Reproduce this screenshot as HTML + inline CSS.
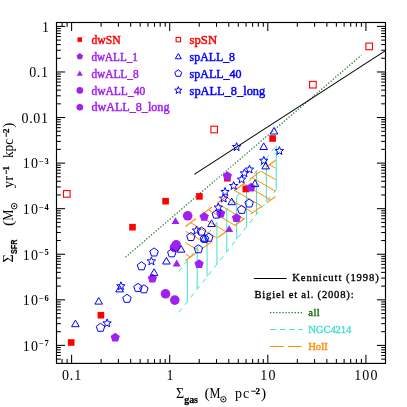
<!DOCTYPE html>
<html><head><meta charset="utf-8"><title>Kennicutt-Schmidt relation</title>
<style>html,body{margin:0;padding:0;background:#fff;}svg{display:block;will-change:transform;}text{white-space:pre;}</style>
</head><body>
<svg width="407" height="407" viewBox="0 0 407 407"><g stroke="#40e0d0" stroke-width="1.0" fill="none"><line x1="187.30" y1="260.60" x2="187.30" y2="301.57"/><line x1="197.18" y1="247.84" x2="197.18" y2="289.10"/><line x1="207.06" y1="235.07" x2="207.06" y2="276.64"/><line x1="216.94" y1="222.31" x2="216.94" y2="264.17"/><line x1="226.82" y1="209.54" x2="226.82" y2="251.70"/><line x1="236.70" y1="196.78" x2="236.70" y2="239.23"/><line x1="246.58" y1="184.01" x2="246.58" y2="226.76"/><line x1="256.46" y1="171.25" x2="256.46" y2="214.29"/><line x1="266.34" y1="158.48" x2="266.34" y2="201.82"/><line x1="276.22" y1="145.72" x2="276.22" y2="189.36"/></g>
<g stroke="#40e0d0" stroke-width="1.0" fill="none" stroke-dasharray="5 4.5"><line x1="178.8" y1="312.30" x2="276.22" y2="189.36"/><line x1="178.8" y1="271.58" x2="276.22" y2="145.72"/></g>
<g stroke="#ff8c00" stroke-width="1.0" fill="none"><line x1="185.50" y1="254.28" x2="190.29" y2="257.06"/><line x1="185.50" y1="242.75" x2="199.23" y2="250.72"/><line x1="185.50" y1="231.22" x2="208.17" y2="244.37"/><line x1="190.68" y1="222.69" x2="217.11" y2="238.03"/><line x1="199.45" y1="216.25" x2="226.06" y2="231.68"/><line x1="208.21" y1="209.81" x2="235.00" y2="225.34"/><line x1="216.98" y1="203.36" x2="243.94" y2="219.00"/><line x1="225.75" y1="196.92" x2="252.88" y2="212.65"/><line x1="234.52" y1="190.47" x2="261.82" y2="206.31"/><line x1="243.29" y1="184.03" x2="270.76" y2="199.96"/><line x1="252.05" y1="177.58" x2="275.60" y2="191.24"/><line x1="260.82" y1="171.14" x2="275.60" y2="179.71"/><line x1="269.59" y1="164.69" x2="275.60" y2="168.18"/></g>
<g stroke="#ff8c00" stroke-width="1.1" fill="none" stroke-dasharray="13 7"><line x1="185.5" y1="226.50" x2="275.6" y2="160.28"/><line x1="185.5" y1="260.46" x2="275.6" y2="196.53"/></g>
<line x1="125.5" y1="257.3" x2="361.3" y2="55.2" stroke="#14701a" stroke-width="1.25" stroke-dasharray="1.2 1.87"/>
<g><rect x="67.90" y="339.20" width="6.6" height="6.6" fill="#ff0000"/><rect x="97.60" y="311.90" width="6.6" height="6.6" fill="#ff0000"/><rect x="129.20" y="223.90" width="6.6" height="6.6" fill="#ff0000"/><rect x="162.30" y="197.90" width="6.6" height="6.6" fill="#ff0000"/><rect x="196.10" y="193.10" width="6.6" height="6.6" fill="#ff0000"/><rect x="224.00" y="174.90" width="6.6" height="6.6" fill="#ff0000"/><rect x="242.50" y="185.70" width="6.6" height="6.6" fill="#ff0000"/><rect x="269.30" y="135.20" width="6.6" height="6.6" fill="#ff0000"/><polygon points="115.20,332.75 119.81,336.10 118.05,341.52 112.35,341.52 110.59,336.10" fill="#a020f0"/><polygon points="152.40,273.65 157.01,277.00 155.25,282.42 149.55,282.42 147.79,277.00" fill="#a020f0"/><polygon points="199.10,259.15 203.71,262.50 201.95,267.92 196.25,267.92 194.49,262.50" fill="#a020f0"/><polygon points="204.20,211.95 208.81,215.30 207.05,220.72 201.35,220.72 199.59,215.30" fill="#a020f0"/><polygon points="220.70,208.65 225.31,212.00 223.55,217.42 217.85,217.42 216.09,212.00" fill="#a020f0"/><polygon points="236.50,213.15 241.11,216.50 239.35,221.92 233.65,221.92 231.89,216.50" fill="#a020f0"/><polygon points="227.30,171.25 231.91,174.60 230.15,180.02 224.45,180.02 222.69,174.60" fill="#a020f0"/><polygon points="251.00,182.65 255.61,186.00 253.85,191.42 248.15,191.42 246.39,186.00" fill="#a020f0"/><polygon points="175.50,217.20 179.48,224.10 171.52,224.10" fill="#a020f0"/><polygon points="176.70,259.60 180.68,266.50 172.72,266.50" fill="#a020f0"/><polygon points="229.20,225.20 233.18,232.10 225.22,232.10" fill="#a020f0"/><circle cx="176.2" cy="244.9" r="4.8" fill="#a020f0"/><circle cx="174.6" cy="247.5" r="4.8" fill="#a020f0"/><circle cx="187.7" cy="215.8" r="4.8" fill="#a020f0"/><circle cx="165.5" cy="293.8" r="4.8" fill="#a020f0"/><circle cx="174.8" cy="300.1" r="4.8" fill="#a020f0"/><rect x="63.50" y="190.60" width="6.6" height="6.6" fill="none" stroke="#ff0000" stroke-width="1.1"/><rect x="210.90" y="126.20" width="6.6" height="6.6" fill="none" stroke="#ff0000" stroke-width="1.1"/><rect x="309.60" y="81.40" width="6.6" height="6.6" fill="none" stroke="#ff0000" stroke-width="1.1"/><rect x="365.90" y="43.10" width="6.6" height="6.6" fill="none" stroke="#ff0000" stroke-width="1.1"/><polygon points="75.40,320.10 79.21,326.70 71.59,326.70" fill="none" stroke="#0000ff" stroke-width="1.0"/><polygon points="98.70,297.50 102.51,304.10 94.89,304.10" fill="none" stroke="#0000ff" stroke-width="1.0"/><polygon points="119.60,285.30 123.41,291.90 115.79,291.90" fill="none" stroke="#0000ff" stroke-width="1.0"/><polygon points="154.10,268.80 157.91,275.40 150.29,275.40" fill="none" stroke="#0000ff" stroke-width="1.0"/><polygon points="166.40,257.40 170.21,264.00 162.59,264.00" fill="none" stroke="#0000ff" stroke-width="1.0"/><polygon points="181.10,245.60 184.91,252.20 177.29,252.20" fill="none" stroke="#0000ff" stroke-width="1.0"/><polygon points="211.50,219.90 215.31,226.50 207.69,226.50" fill="none" stroke="#0000ff" stroke-width="1.0"/><polygon points="204.30,234.60 208.11,241.20 200.49,241.20" fill="none" stroke="#0000ff" stroke-width="1.0"/><polygon points="231.70,198.10 235.51,204.70 227.89,204.70" fill="none" stroke="#0000ff" stroke-width="1.0"/><polygon points="255.00,179.80 258.81,186.40 251.19,186.40" fill="none" stroke="#0000ff" stroke-width="1.0"/><polygon points="265.70,162.30 269.51,168.90 261.89,168.90" fill="none" stroke="#0000ff" stroke-width="1.0"/><polygon points="263.70,142.90 267.51,149.50 259.89,149.50" fill="none" stroke="#0000ff" stroke-width="1.0"/><polygon points="274.00,127.40 277.81,134.00 270.19,134.00" fill="none" stroke="#0000ff" stroke-width="1.0"/><polygon points="100.50,323.25 104.73,326.32 103.12,331.30 97.88,331.30 96.27,326.32" fill="none" stroke="#0000ff" stroke-width="1.0"/><polygon points="127.00,294.25 131.23,297.32 129.62,302.30 124.38,302.30 122.77,297.32" fill="none" stroke="#0000ff" stroke-width="1.0"/><polygon points="138.00,283.35 142.23,286.42 140.62,291.40 135.38,291.40 133.77,286.42" fill="none" stroke="#0000ff" stroke-width="1.0"/><polygon points="143.90,284.75 148.13,287.82 146.52,292.80 141.28,292.80 139.67,287.82" fill="none" stroke="#0000ff" stroke-width="1.0"/><polygon points="141.50,261.75 145.73,264.82 144.12,269.80 138.88,269.80 137.27,264.82" fill="none" stroke="#0000ff" stroke-width="1.0"/><polygon points="154.10,247.95 158.33,251.02 156.72,256.00 151.48,256.00 149.87,251.02" fill="none" stroke="#0000ff" stroke-width="1.0"/><polygon points="171.80,248.75 176.03,251.82 174.42,256.80 169.18,256.80 167.57,251.82" fill="none" stroke="#0000ff" stroke-width="1.0"/><polygon points="190.90,232.45 195.13,235.52 193.52,240.50 188.28,240.50 186.67,235.52" fill="none" stroke="#0000ff" stroke-width="1.0"/><polygon points="201.50,227.05 205.73,230.12 204.12,235.10 198.88,235.10 197.27,230.12" fill="none" stroke="#0000ff" stroke-width="1.0"/><polygon points="204.50,234.35 208.73,237.42 207.12,242.40 201.88,242.40 200.27,237.42" fill="none" stroke="#0000ff" stroke-width="1.0"/><polygon points="208.80,233.15 213.03,236.22 211.42,241.20 206.18,241.20 204.57,236.22" fill="none" stroke="#0000ff" stroke-width="1.0"/><polygon points="198.40,244.65 202.63,247.72 201.02,252.70 195.78,252.70 194.17,247.72" fill="none" stroke="#0000ff" stroke-width="1.0"/><polygon points="216.30,210.05 220.53,213.12 218.92,218.10 213.68,218.10 212.07,213.12" fill="none" stroke="#0000ff" stroke-width="1.0"/><polygon points="241.70,205.35 245.93,208.42 244.32,213.40 239.08,213.40 237.47,208.42" fill="none" stroke="#0000ff" stroke-width="1.0"/><polygon points="249.10,198.95 253.33,202.02 251.72,207.00 246.48,207.00 244.87,202.02" fill="none" stroke="#0000ff" stroke-width="1.0"/><polygon points="107.10,318.90 108.22,321.76 111.28,321.94 108.91,323.89 109.69,326.86 107.10,325.20 104.51,326.86 105.29,323.89 102.92,321.94 105.98,321.76" fill="none" stroke="#0000ff" stroke-width="1.0"/><polygon points="120.90,281.80 122.02,284.66 125.08,284.84 122.71,286.79 123.49,289.76 120.90,288.10 118.31,289.76 119.09,286.79 116.72,284.84 119.78,284.66" fill="none" stroke="#0000ff" stroke-width="1.0"/><polygon points="151.40,256.90 152.52,259.76 155.58,259.94 153.21,261.89 153.99,264.86 151.40,263.20 148.81,264.86 149.59,261.89 147.22,259.94 150.28,259.76" fill="none" stroke="#0000ff" stroke-width="1.0"/><polygon points="196.50,226.10 197.62,228.96 200.68,229.14 198.31,231.09 199.09,234.06 196.50,232.40 193.91,234.06 194.69,231.09 192.32,229.14 195.38,228.96" fill="none" stroke="#0000ff" stroke-width="1.0"/><polygon points="218.30,203.10 219.42,205.96 222.48,206.14 220.11,208.09 220.89,211.06 218.30,209.40 215.71,211.06 216.49,208.09 214.12,206.14 217.18,205.96" fill="none" stroke="#0000ff" stroke-width="1.0"/><polygon points="223.70,194.10 224.82,196.96 227.88,197.14 225.51,199.09 226.29,202.06 223.70,200.40 221.11,202.06 221.89,199.09 219.52,197.14 222.58,196.96" fill="none" stroke="#0000ff" stroke-width="1.0"/><polygon points="225.10,187.50 226.22,190.36 229.28,190.54 226.91,192.49 227.69,195.46 225.10,193.80 222.51,195.46 223.29,192.49 220.92,190.54 223.98,190.36" fill="none" stroke="#0000ff" stroke-width="1.0"/><polygon points="233.70,181.50 234.82,184.36 237.88,184.54 235.51,186.49 236.29,189.46 233.70,187.80 231.11,189.46 231.89,186.49 229.52,184.54 232.58,184.36" fill="none" stroke="#0000ff" stroke-width="1.0"/><polygon points="241.60,175.10 242.72,177.96 245.78,178.14 243.41,180.09 244.19,183.06 241.60,181.40 239.01,183.06 239.79,180.09 237.42,178.14 240.48,177.96" fill="none" stroke="#0000ff" stroke-width="1.0"/><polygon points="244.40,168.90 245.52,171.76 248.58,171.94 246.21,173.89 246.99,176.86 244.40,175.20 241.81,176.86 242.59,173.89 240.22,171.94 243.28,171.76" fill="none" stroke="#0000ff" stroke-width="1.0"/><polygon points="249.50,165.10 250.62,167.96 253.68,168.14 251.31,170.09 252.09,173.06 249.50,171.40 246.91,173.06 247.69,170.09 245.32,168.14 248.38,167.96" fill="none" stroke="#0000ff" stroke-width="1.0"/><polygon points="263.80,156.30 264.92,159.16 267.98,159.34 265.61,161.29 266.39,164.26 263.80,162.60 261.21,164.26 261.99,161.29 259.62,159.34 262.68,159.16" fill="none" stroke="#0000ff" stroke-width="1.0"/><polygon points="279.40,146.60 280.52,149.46 283.58,149.64 281.21,151.59 281.99,154.56 279.40,152.90 276.81,154.56 277.59,151.59 275.22,149.64 278.28,149.46" fill="none" stroke="#0000ff" stroke-width="1.0"/><polygon points="236.60,142.60 237.72,145.46 240.78,145.64 238.41,147.59 239.19,150.56 236.60,148.90 234.01,150.56 234.79,147.59 232.42,145.64 235.48,145.46" fill="none" stroke="#0000ff" stroke-width="1.0"/></g>
<line x1="194.3" y1="174.4" x2="385.5" y2="50.6" stroke="#000" stroke-width="1.1"/>
<rect x="56.5" y="22.5" width="329.0" height="340.9" fill="none" stroke="#000" stroke-width="1.15"/>
<g stroke="#000" stroke-width="1.05"><line x1="62.09" y1="363.4" x2="62.09" y2="359.09999999999997"/><line x1="62.09" y1="22.5" x2="62.09" y2="26.8"/><line x1="67.11" y1="363.4" x2="67.11" y2="359.09999999999997"/><line x1="67.11" y1="22.5" x2="67.11" y2="26.8"/><line x1="71.60" y1="363.4" x2="71.60" y2="354.79999999999995"/><line x1="71.60" y1="22.5" x2="71.60" y2="31.1"/><line x1="101.13" y1="363.4" x2="101.13" y2="359.09999999999997"/><line x1="101.13" y1="22.5" x2="101.13" y2="26.8"/><line x1="118.41" y1="363.4" x2="118.41" y2="359.09999999999997"/><line x1="118.41" y1="22.5" x2="118.41" y2="26.8"/><line x1="130.66" y1="363.4" x2="130.66" y2="359.09999999999997"/><line x1="130.66" y1="22.5" x2="130.66" y2="26.8"/><line x1="140.17" y1="363.4" x2="140.17" y2="359.09999999999997"/><line x1="140.17" y1="22.5" x2="140.17" y2="26.8"/><line x1="147.94" y1="363.4" x2="147.94" y2="359.09999999999997"/><line x1="147.94" y1="22.5" x2="147.94" y2="26.8"/><line x1="154.50" y1="363.4" x2="154.50" y2="359.09999999999997"/><line x1="154.50" y1="22.5" x2="154.50" y2="26.8"/><line x1="160.19" y1="363.4" x2="160.19" y2="359.09999999999997"/><line x1="160.19" y1="22.5" x2="160.19" y2="26.8"/><line x1="165.21" y1="363.4" x2="165.21" y2="359.09999999999997"/><line x1="165.21" y1="22.5" x2="165.21" y2="26.8"/><line x1="169.70" y1="363.4" x2="169.70" y2="354.79999999999995"/><line x1="169.70" y1="22.5" x2="169.70" y2="31.1"/><line x1="199.23" y1="363.4" x2="199.23" y2="359.09999999999997"/><line x1="199.23" y1="22.5" x2="199.23" y2="26.8"/><line x1="216.51" y1="363.4" x2="216.51" y2="359.09999999999997"/><line x1="216.51" y1="22.5" x2="216.51" y2="26.8"/><line x1="228.76" y1="363.4" x2="228.76" y2="359.09999999999997"/><line x1="228.76" y1="22.5" x2="228.76" y2="26.8"/><line x1="238.27" y1="363.4" x2="238.27" y2="359.09999999999997"/><line x1="238.27" y1="22.5" x2="238.27" y2="26.8"/><line x1="246.04" y1="363.4" x2="246.04" y2="359.09999999999997"/><line x1="246.04" y1="22.5" x2="246.04" y2="26.8"/><line x1="252.60" y1="363.4" x2="252.60" y2="359.09999999999997"/><line x1="252.60" y1="22.5" x2="252.60" y2="26.8"/><line x1="258.29" y1="363.4" x2="258.29" y2="359.09999999999997"/><line x1="258.29" y1="22.5" x2="258.29" y2="26.8"/><line x1="263.31" y1="363.4" x2="263.31" y2="359.09999999999997"/><line x1="263.31" y1="22.5" x2="263.31" y2="26.8"/><line x1="267.80" y1="363.4" x2="267.80" y2="354.79999999999995"/><line x1="267.80" y1="22.5" x2="267.80" y2="31.1"/><line x1="297.33" y1="363.4" x2="297.33" y2="359.09999999999997"/><line x1="297.33" y1="22.5" x2="297.33" y2="26.8"/><line x1="314.61" y1="363.4" x2="314.61" y2="359.09999999999997"/><line x1="314.61" y1="22.5" x2="314.61" y2="26.8"/><line x1="326.86" y1="363.4" x2="326.86" y2="359.09999999999997"/><line x1="326.86" y1="22.5" x2="326.86" y2="26.8"/><line x1="336.37" y1="363.4" x2="336.37" y2="359.09999999999997"/><line x1="336.37" y1="22.5" x2="336.37" y2="26.8"/><line x1="344.14" y1="363.4" x2="344.14" y2="359.09999999999997"/><line x1="344.14" y1="22.5" x2="344.14" y2="26.8"/><line x1="350.70" y1="363.4" x2="350.70" y2="359.09999999999997"/><line x1="350.70" y1="22.5" x2="350.70" y2="26.8"/><line x1="356.39" y1="363.4" x2="356.39" y2="359.09999999999997"/><line x1="356.39" y1="22.5" x2="356.39" y2="26.8"/><line x1="361.41" y1="363.4" x2="361.41" y2="359.09999999999997"/><line x1="361.41" y1="22.5" x2="361.41" y2="26.8"/><line x1="365.90" y1="363.4" x2="365.90" y2="354.79999999999995"/><line x1="365.90" y1="22.5" x2="365.90" y2="31.1"/><line x1="56.5" y1="359.11" x2="60.8" y2="359.11"/><line x1="385.5" y1="359.11" x2="381.2" y2="359.11"/><line x1="56.5" y1="355.50" x2="60.8" y2="355.50"/><line x1="385.5" y1="355.50" x2="381.2" y2="355.50"/><line x1="56.5" y1="352.45" x2="60.8" y2="352.45"/><line x1="385.5" y1="352.45" x2="381.2" y2="352.45"/><line x1="56.5" y1="349.81" x2="60.8" y2="349.81"/><line x1="385.5" y1="349.81" x2="381.2" y2="349.81"/><line x1="56.5" y1="347.48" x2="60.8" y2="347.48"/><line x1="385.5" y1="347.48" x2="381.2" y2="347.48"/><line x1="56.5" y1="345.39" x2="65.1" y2="345.39"/><line x1="385.5" y1="345.39" x2="376.9" y2="345.39"/><line x1="56.5" y1="331.67" x2="60.8" y2="331.67"/><line x1="385.5" y1="331.67" x2="381.2" y2="331.67"/><line x1="56.5" y1="323.65" x2="60.8" y2="323.65"/><line x1="385.5" y1="323.65" x2="381.2" y2="323.65"/><line x1="56.5" y1="317.95" x2="60.8" y2="317.95"/><line x1="385.5" y1="317.95" x2="381.2" y2="317.95"/><line x1="56.5" y1="313.54" x2="60.8" y2="313.54"/><line x1="385.5" y1="313.54" x2="381.2" y2="313.54"/><line x1="56.5" y1="309.93" x2="60.8" y2="309.93"/><line x1="385.5" y1="309.93" x2="381.2" y2="309.93"/><line x1="56.5" y1="306.88" x2="60.8" y2="306.88"/><line x1="385.5" y1="306.88" x2="381.2" y2="306.88"/><line x1="56.5" y1="304.24" x2="60.8" y2="304.24"/><line x1="385.5" y1="304.24" x2="381.2" y2="304.24"/><line x1="56.5" y1="301.91" x2="60.8" y2="301.91"/><line x1="385.5" y1="301.91" x2="381.2" y2="301.91"/><line x1="56.5" y1="299.82" x2="65.1" y2="299.82"/><line x1="385.5" y1="299.82" x2="376.9" y2="299.82"/><line x1="56.5" y1="286.10" x2="60.8" y2="286.10"/><line x1="385.5" y1="286.10" x2="381.2" y2="286.10"/><line x1="56.5" y1="278.08" x2="60.8" y2="278.08"/><line x1="385.5" y1="278.08" x2="381.2" y2="278.08"/><line x1="56.5" y1="272.38" x2="60.8" y2="272.38"/><line x1="385.5" y1="272.38" x2="381.2" y2="272.38"/><line x1="56.5" y1="267.97" x2="60.8" y2="267.97"/><line x1="385.5" y1="267.97" x2="381.2" y2="267.97"/><line x1="56.5" y1="264.36" x2="60.8" y2="264.36"/><line x1="385.5" y1="264.36" x2="381.2" y2="264.36"/><line x1="56.5" y1="261.31" x2="60.8" y2="261.31"/><line x1="385.5" y1="261.31" x2="381.2" y2="261.31"/><line x1="56.5" y1="258.67" x2="60.8" y2="258.67"/><line x1="385.5" y1="258.67" x2="381.2" y2="258.67"/><line x1="56.5" y1="256.34" x2="60.8" y2="256.34"/><line x1="385.5" y1="256.34" x2="381.2" y2="256.34"/><line x1="56.5" y1="254.25" x2="65.1" y2="254.25"/><line x1="385.5" y1="254.25" x2="376.9" y2="254.25"/><line x1="56.5" y1="240.53" x2="60.8" y2="240.53"/><line x1="385.5" y1="240.53" x2="381.2" y2="240.53"/><line x1="56.5" y1="232.51" x2="60.8" y2="232.51"/><line x1="385.5" y1="232.51" x2="381.2" y2="232.51"/><line x1="56.5" y1="226.81" x2="60.8" y2="226.81"/><line x1="385.5" y1="226.81" x2="381.2" y2="226.81"/><line x1="56.5" y1="222.40" x2="60.8" y2="222.40"/><line x1="385.5" y1="222.40" x2="381.2" y2="222.40"/><line x1="56.5" y1="218.79" x2="60.8" y2="218.79"/><line x1="385.5" y1="218.79" x2="381.2" y2="218.79"/><line x1="56.5" y1="215.74" x2="60.8" y2="215.74"/><line x1="385.5" y1="215.74" x2="381.2" y2="215.74"/><line x1="56.5" y1="213.10" x2="60.8" y2="213.10"/><line x1="385.5" y1="213.10" x2="381.2" y2="213.10"/><line x1="56.5" y1="210.77" x2="60.8" y2="210.77"/><line x1="385.5" y1="210.77" x2="381.2" y2="210.77"/><line x1="56.5" y1="208.68" x2="65.1" y2="208.68"/><line x1="385.5" y1="208.68" x2="376.9" y2="208.68"/><line x1="56.5" y1="194.96" x2="60.8" y2="194.96"/><line x1="385.5" y1="194.96" x2="381.2" y2="194.96"/><line x1="56.5" y1="186.94" x2="60.8" y2="186.94"/><line x1="385.5" y1="186.94" x2="381.2" y2="186.94"/><line x1="56.5" y1="181.24" x2="60.8" y2="181.24"/><line x1="385.5" y1="181.24" x2="381.2" y2="181.24"/><line x1="56.5" y1="176.83" x2="60.8" y2="176.83"/><line x1="385.5" y1="176.83" x2="381.2" y2="176.83"/><line x1="56.5" y1="173.22" x2="60.8" y2="173.22"/><line x1="385.5" y1="173.22" x2="381.2" y2="173.22"/><line x1="56.5" y1="170.17" x2="60.8" y2="170.17"/><line x1="385.5" y1="170.17" x2="381.2" y2="170.17"/><line x1="56.5" y1="167.53" x2="60.8" y2="167.53"/><line x1="385.5" y1="167.53" x2="381.2" y2="167.53"/><line x1="56.5" y1="165.20" x2="60.8" y2="165.20"/><line x1="385.5" y1="165.20" x2="381.2" y2="165.20"/><line x1="56.5" y1="163.11" x2="65.1" y2="163.11"/><line x1="385.5" y1="163.11" x2="376.9" y2="163.11"/><line x1="56.5" y1="149.39" x2="60.8" y2="149.39"/><line x1="385.5" y1="149.39" x2="381.2" y2="149.39"/><line x1="56.5" y1="141.37" x2="60.8" y2="141.37"/><line x1="385.5" y1="141.37" x2="381.2" y2="141.37"/><line x1="56.5" y1="135.67" x2="60.8" y2="135.67"/><line x1="385.5" y1="135.67" x2="381.2" y2="135.67"/><line x1="56.5" y1="131.26" x2="60.8" y2="131.26"/><line x1="385.5" y1="131.26" x2="381.2" y2="131.26"/><line x1="56.5" y1="127.65" x2="60.8" y2="127.65"/><line x1="385.5" y1="127.65" x2="381.2" y2="127.65"/><line x1="56.5" y1="124.60" x2="60.8" y2="124.60"/><line x1="385.5" y1="124.60" x2="381.2" y2="124.60"/><line x1="56.5" y1="121.96" x2="60.8" y2="121.96"/><line x1="385.5" y1="121.96" x2="381.2" y2="121.96"/><line x1="56.5" y1="119.63" x2="60.8" y2="119.63"/><line x1="385.5" y1="119.63" x2="381.2" y2="119.63"/><line x1="56.5" y1="117.54" x2="65.1" y2="117.54"/><line x1="385.5" y1="117.54" x2="376.9" y2="117.54"/><line x1="56.5" y1="103.82" x2="60.8" y2="103.82"/><line x1="385.5" y1="103.82" x2="381.2" y2="103.82"/><line x1="56.5" y1="95.80" x2="60.8" y2="95.80"/><line x1="385.5" y1="95.80" x2="381.2" y2="95.80"/><line x1="56.5" y1="90.10" x2="60.8" y2="90.10"/><line x1="385.5" y1="90.10" x2="381.2" y2="90.10"/><line x1="56.5" y1="85.69" x2="60.8" y2="85.69"/><line x1="385.5" y1="85.69" x2="381.2" y2="85.69"/><line x1="56.5" y1="82.08" x2="60.8" y2="82.08"/><line x1="385.5" y1="82.08" x2="381.2" y2="82.08"/><line x1="56.5" y1="79.03" x2="60.8" y2="79.03"/><line x1="385.5" y1="79.03" x2="381.2" y2="79.03"/><line x1="56.5" y1="76.39" x2="60.8" y2="76.39"/><line x1="385.5" y1="76.39" x2="381.2" y2="76.39"/><line x1="56.5" y1="74.06" x2="60.8" y2="74.06"/><line x1="385.5" y1="74.06" x2="381.2" y2="74.06"/><line x1="56.5" y1="71.97" x2="65.1" y2="71.97"/><line x1="385.5" y1="71.97" x2="376.9" y2="71.97"/><line x1="56.5" y1="58.25" x2="60.8" y2="58.25"/><line x1="385.5" y1="58.25" x2="381.2" y2="58.25"/><line x1="56.5" y1="50.23" x2="60.8" y2="50.23"/><line x1="385.5" y1="50.23" x2="381.2" y2="50.23"/><line x1="56.5" y1="44.53" x2="60.8" y2="44.53"/><line x1="385.5" y1="44.53" x2="381.2" y2="44.53"/><line x1="56.5" y1="40.12" x2="60.8" y2="40.12"/><line x1="385.5" y1="40.12" x2="381.2" y2="40.12"/><line x1="56.5" y1="36.51" x2="60.8" y2="36.51"/><line x1="385.5" y1="36.51" x2="381.2" y2="36.51"/><line x1="56.5" y1="33.46" x2="60.8" y2="33.46"/><line x1="385.5" y1="33.46" x2="381.2" y2="33.46"/><line x1="56.5" y1="30.82" x2="60.8" y2="30.82"/><line x1="385.5" y1="30.82" x2="381.2" y2="30.82"/><line x1="56.5" y1="28.49" x2="60.8" y2="28.49"/><line x1="385.5" y1="28.49" x2="381.2" y2="28.49"/><line x1="56.5" y1="26.40" x2="65.1" y2="26.40"/><line x1="385.5" y1="26.40" x2="376.9" y2="26.40"/></g>
<g font-family="Liberation Serif, serif" fill="#000"><text x="61.9" y="380" textLength="19.4" lengthAdjust="spacing" font-size="14">0.1</text><text x="166.5" y="380" font-size="14">1</text><text x="260.2" y="380" textLength="15.2" lengthAdjust="spacing" font-size="14">10</text><text x="354.2" y="380" textLength="23.3" lengthAdjust="spacing" font-size="14">100</text><text x="41.9" y="31.7" font-size="14">1</text><text x="29.2" y="77.3" textLength="18.8" lengthAdjust="spacing" font-size="14">0.1</text><text x="21.5" y="122.8" textLength="26.5" lengthAdjust="spacing" font-size="14">0.01</text><text x="22.7" y="168.4" textLength="15.3" lengthAdjust="spacing" font-size="14">10</text><text x="39.0" y="164.1" textLength="9.8" lengthAdjust="spacing" font-size="8.5" font-weight="bold">−3</text><text x="22.7" y="214.0" textLength="15.3" lengthAdjust="spacing" font-size="14">10</text><text x="39.0" y="209.7" textLength="9.8" lengthAdjust="spacing" font-size="8.5" font-weight="bold">−4</text><text x="22.7" y="259.6" textLength="15.3" lengthAdjust="spacing" font-size="14">10</text><text x="39.0" y="255.2" textLength="9.8" lengthAdjust="spacing" font-size="8.5" font-weight="bold">−5</text><text x="22.7" y="305.1" textLength="15.3" lengthAdjust="spacing" font-size="14">10</text><text x="39.0" y="300.8" textLength="9.8" lengthAdjust="spacing" font-size="8.5" font-weight="bold">−6</text><text x="22.7" y="350.7" textLength="15.3" lengthAdjust="spacing" font-size="14">10</text><text x="39.0" y="346.4" textLength="9.8" lengthAdjust="spacing" font-size="8.5" font-weight="bold">−7</text></g>
<g transform="translate(175.9,397.5)" font-family="Liberation Serif, serif" fill="#000"><text x="0" y="0" font-size="14">Σ</text><text x="8.3" y="5.0" font-size="9.8" font-weight="bold" stroke="#000" stroke-width="0.25" textLength="13.8" lengthAdjust="spacingAndGlyphs">gas</text><text x="28.7" y="0.6" font-size="15.5">(</text><text x="33.6" y="0" font-size="14" textLength="10.9" lengthAdjust="spacingAndGlyphs">M</text><circle cx="47.5" cy="1.8" r="2.7" fill="none" stroke="#000" stroke-width="0.9"/><circle cx="47.5" cy="1.8" r="0.85" fill="#000"/><text x="59.0" y="0" font-size="14" textLength="14.3" lengthAdjust="spacing">pc</text><text x="74.9" y="-3.7" font-size="9" font-weight="bold" stroke="#000" stroke-width="0.25" textLength="9.1" lengthAdjust="spacing">−2</text><text x="85.0" y="0.6" font-size="15.5">)</text></g>
<g transform="translate(12.5,262.4) rotate(-90)" font-family="Liberation Serif, serif" fill="#000"><text x="0" y="0" font-size="14">Σ</text><text x="8.3" y="4.8" font-size="9.4" font-weight="bold" stroke="#000" stroke-width="0.25" font-family="Liberation Sans, sans-serif" textLength="14.5" lengthAdjust="spacingAndGlyphs">SFR</text><text x="36.5" y="0.6" font-size="15.5">(</text><text x="41.6" y="0" font-size="14" textLength="11.2" lengthAdjust="spacingAndGlyphs">M</text><circle cx="56.2" cy="1.7" r="2.8" fill="none" stroke="#000" stroke-width="0.9"/><circle cx="56.2" cy="1.7" r="0.85" fill="#000"/><text x="74.4" y="0" font-size="14" textLength="12.2" lengthAdjust="spacing">yr</text><text x="87.7" y="-3.7" font-size="9" font-weight="bold" stroke="#000" stroke-width="0.25" textLength="8.6" lengthAdjust="spacing">−1</text><text x="104.3" y="0" font-size="14" textLength="19.2" lengthAdjust="spacingAndGlyphs">kpc</text><text x="124.8" y="-3.7" font-size="9" font-weight="bold" stroke="#000" stroke-width="0.25" textLength="9.1" lengthAdjust="spacing">−2</text><text x="134.6" y="0.6" font-size="15.5">)</text></g>
<g font-family="Liberation Serif, serif"><rect x="77.5" y="37.300000000000004" width="4.6" height="4.6" fill="#ff0000"/><polygon points="79.80,53.05 83.08,55.43 81.83,59.29 77.77,59.29 76.52,55.43" fill="#a020f0"/><polygon points="79.80,70.40 82.83,75.65 76.77,75.65" fill="#a020f0"/><circle cx="79.8" cy="90.4" r="3.3" fill="#a020f0"/><circle cx="79.8" cy="107.2" r="3.3" fill="#a020f0"/><text x="91.4" y="43.7" fill="#ff0000" stroke="#ff0000" stroke-width="0.45" font-size="11.8" textLength="29.2" lengthAdjust="spacingAndGlyphs">dwSN</text><text x="91.4" y="60.6" fill="#a020f0" stroke="#a020f0" stroke-width="0.45" font-size="11.8" textLength="46.5" lengthAdjust="spacingAndGlyphs">dwALL_1</text><text x="91.4" y="77.6" fill="#a020f0" stroke="#a020f0" stroke-width="0.45" font-size="11.8" textLength="47.2" lengthAdjust="spacingAndGlyphs">dwALL_8</text><text x="91.4" y="94.6" fill="#a020f0" stroke="#a020f0" stroke-width="0.45" font-size="11.8" textLength="53.8" lengthAdjust="spacingAndGlyphs">dwALL_40</text><text x="91.4" y="111.3" fill="#a020f0" stroke="#a020f0" stroke-width="0.45" font-size="11.8" textLength="78.1" lengthAdjust="spacingAndGlyphs">dwALL_8_long</text><rect x="176.10000000000002" y="37.4" width="4.4" height="4.4" fill="none" stroke="#ff0000" stroke-width="1.05"/><polygon points="178.30,53.50 181.33,58.75 175.27,58.75" fill="none" stroke="#0000ff" stroke-width="1"/><polygon points="178.30,69.80 181.72,72.29 180.42,76.31 176.18,76.31 174.88,72.29" fill="none" stroke="#0000ff" stroke-width="1"/><polygon points="178.30,86.60 179.27,89.07 181.91,89.23 179.87,90.91 180.53,93.47 178.30,92.05 176.07,93.47 176.73,90.91 174.69,89.23 177.33,89.07" fill="none" stroke="#0000ff" stroke-width="1"/><text x="189.6" y="43.7" fill="#ff0000" stroke="#ff0000" stroke-width="0.45" font-size="11.8" textLength="27.5" lengthAdjust="spacingAndGlyphs">spSN</text><text x="189.6" y="60.6" fill="#0000ff" stroke="#0000ff" stroke-width="0.45" font-size="11.8" textLength="45.4" lengthAdjust="spacingAndGlyphs">spALL_8</text><text x="189.6" y="77.6" fill="#0000ff" stroke="#0000ff" stroke-width="0.45" font-size="11.8" textLength="52" lengthAdjust="spacingAndGlyphs">spALL_40</text><text x="189.6" y="94.6" fill="#0000ff" stroke="#0000ff" stroke-width="0.45" font-size="11.8" textLength="75.6" lengthAdjust="spacingAndGlyphs">spALL_8_long</text><line x1="253.8" y1="278.5" x2="286.7" y2="278.5" stroke="#000" stroke-width="1.2"/><text x="292.2" y="281.3" fill="#000" stroke="#000" stroke-width="0.35" font-size="10.6" textLength="86.6" lengthAdjust="spacing">Kennicutt (1998)</text><text x="254.4" y="298.2" fill="#000" stroke="#000" stroke-width="0.35" font-size="10.6" textLength="99.2" lengthAdjust="spacing">Bigiel et al. (2008):</text><line x1="270.1" y1="312.5" x2="302.4" y2="312.5" stroke="#14701a" stroke-width="1.25" stroke-dasharray="1.2 1.87"/><text x="308.3" y="315.7" fill="#0a640a" stroke="#0a640a" stroke-width="0.35" font-size="10.6" textLength="11.5" lengthAdjust="spacing">all</text><line x1="270.1" y1="329.5" x2="302.6" y2="329.5" stroke="#40e0d0" stroke-width="1.2" stroke-dasharray="5.6 3.9"/><text x="308.3" y="332.8" fill="#40e0d0" stroke="#40e0d0" stroke-width="0.35" font-size="10.6" textLength="43" lengthAdjust="spacing">NGC4214</text><line x1="270.1" y1="346.5" x2="302.4" y2="346.5" stroke="#ff8c00" stroke-width="1.2" stroke-dasharray="13.6 4.3"/><text x="308.3" y="349.6" fill="#ff8c00" stroke="#ff8c00" stroke-width="0.35" font-size="10.6" textLength="19.6" lengthAdjust="spacing">HoII</text></g></svg>
</body></html>
